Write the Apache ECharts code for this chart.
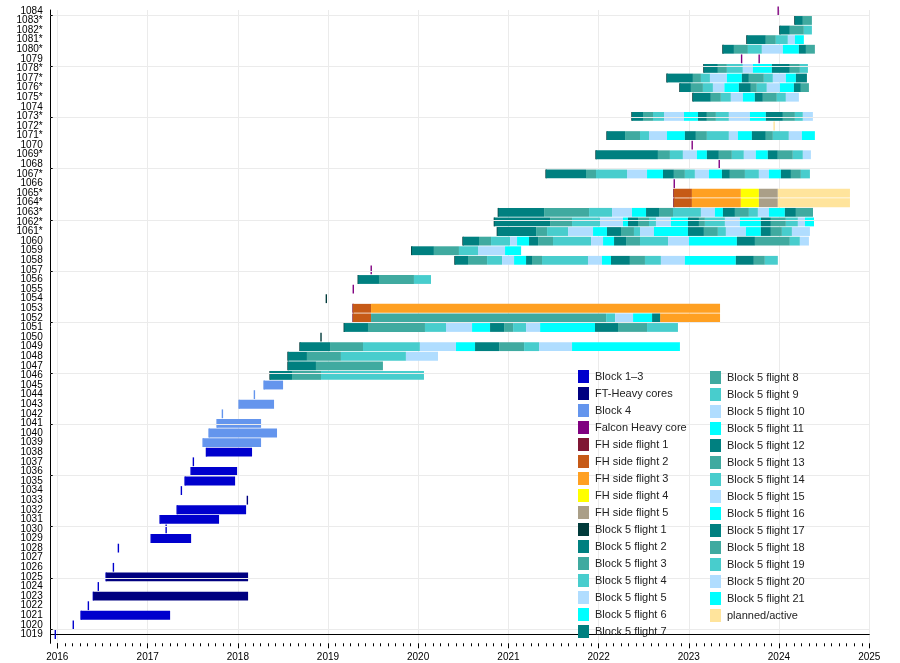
<!DOCTYPE html>
<html><head><meta charset="utf-8">
<script src="https://cdn.jsdelivr.net/npm/echarts@6/dist/echarts.min.js"></script>
<style>html,body{margin:0;padding:0;background:#fff}#c{width:900px;height:663px}</style>
</head><body><div id="c"></div>
<script>
// ---- data (dates as decimal years) ----
const boosterLabels = ['1019','1020','1021','1022','1023','1024','1025','1026','1027','1028',
 '1029','1030','1031','1032','1033','1034','1035','1036','1037','1038','1039','1040','1041','1042',
 '1043','1044','1045','1046','1047','1048','1049','1050','1051','1052','1053','1054','1055','1056',
 '1057','1058','1059','1060','1061*','1062*','1063*','1064*','1065*','1066','1067*','1068','1069*',
 '1070','1071*','1072*','1073*','1074','1075*','1076*','1077*','1078*','1079','1080*','1081*',
 '1082*','1083*','1084'];

// flight kind codes: a=Block 1–3, h=FT-Heavy core, b=Block 4, c=Falcon Heavy core,
// 1..5=FH side flight n, f=Block 5 (flight number = position), p=planned/active, B5 = all Block 5
const flightKinds = ['a','a','aa','a','ah','a','ah','a','','a',
 'aa','a','aa','aa','h','a','aa','aa','a','aa','bb','bb','bb','b',
 'bb','b','bb','B5','B5','B5','B5','B5','B5','12fffff3','123','B5','c','B5',
 'c','B5','B5','B5','B5','B5','B5','12345p','12345p','c','B5','c','B5',
 'c','B5','p','B5','','B5','B5','B5','B5','cc','B5','B5',
 'B5','B5','c'];

const flightDates = [
 [2015.978],
 [2016.177],
 [2016.263, 2017.249],
 [2016.344],
 [2016.399, 2018.114],
 [2016.454],
 [2016.540, 2018.114],
 [2016.621],
 [],
 [2016.676],
 [2017.039, 2017.482],
 [2017.205],
 [2017.138, 2017.792],
 [2017.327, 2018.092],
 [2018.106],
 [2017.374],
 [2017.415, 2017.970],
 [2017.482, 2017.992],
 [2017.507],
 [2017.652, 2018.158],
 [2017.615, 2018.258],
 [2017.681, 2018.435],
 [2017.770, 2018.258],
 [2017.829],
 [2018.014, 2018.402],
 [2018.184],
 [2018.291, 2018.502],
 [2018.358, 2018.601, 2018.923, 2020.065],
 [2018.557, 2018.867, 2019.610],
 [2018.557, 2018.767, 2019.144, 2019.865, 2020.220],
 [2018.690, 2019.023, 2019.389, 2020.020, 2020.419, 2020.630, 2020.896, 2021.173, 2021.339, 2021.705, 2022.902],
 [2018.923],
 [2019.181, 2019.444, 2020.076, 2020.309, 2020.597, 2020.796, 2020.951, 2021.051, 2021.195, 2021.351, 2021.960, 2022.215, 2022.537, 2022.880],
 [2019.278, 2019.478, 2022.083, 2022.183, 2022.382, 2022.593, 2022.682, 2023.347],
 [2019.278, 2019.478, 2023.347],
 [2018.982],
 [2019.281],
 [2019.336, 2019.566, 2019.954, 2020.143],
 [2019.480],
 [2020.408, 2020.552, 2020.763, 2020.929, 2021.062, 2021.195, 2021.261, 2021.372, 2021.882, 2022.037, 2022.137, 2022.347, 2022.514, 2022.691, 2022.957, 2023.522, 2023.722, 2023.844, 2023.988],
 [2019.929, 2020.175, 2020.452, 2020.663, 2020.962, 2021.140],
 [2020.497, 2020.674, 2020.807, 2021.018, 2021.095, 2021.228, 2021.328, 2021.494, 2021.916, 2022.049, 2022.171, 2022.304, 2022.459, 2022.770, 2023.002, 2023.534, 2023.734, 2024.121, 2024.232, 2024.332],
 [2020.877, 2021.306, 2021.428, 2021.661, 2021.938, 2022.093, 2022.248, 2022.392, 2022.459, 2022.614, 2022.991, 2023.168, 2023.323, 2023.412, 2023.634, 2023.800, 2023.911, 2024.033, 2024.144, 2024.343],
 [2020.844, 2021.461, 2021.705, 2022.015, 2022.270, 2022.326, 2022.437, 2022.559, 2022.636, 2022.802, 2022.991, 2023.113, 2023.179, 2023.401, 2023.567, 2023.800, 2023.911, 2024.077, 2024.210, 2024.288, 2024.388],
 [2020.888, 2021.395, 2021.894, 2022.149, 2022.370, 2022.526, 2022.670, 2022.825, 2023.135, 2023.290, 2023.379, 2023.512, 2023.667, 2023.767, 2023.889, 2024.066, 2024.188, 2024.377],
 [2022.835, 2023.035, 2023.578, 2023.778, 2023.988, 2024.786],
 [2022.835, 2023.035, 2023.578, 2023.778, 2023.988, 2024.786],
 [2022.839],
 [2021.417, 2021.860, 2021.971, 2022.315, 2022.537, 2022.714, 2022.835, 2022.957, 2023.068, 2023.224, 2023.368, 2023.456, 2023.623, 2023.778, 2023.889, 2024.022, 2024.133, 2024.243, 2024.343],
 [2023.338],
 [2021.971, 2022.658, 2022.791, 2022.935, 2023.090, 2023.201, 2023.334, 2023.478, 2023.611, 2023.744, 2023.877, 2023.988, 2024.154, 2024.265, 2024.354],
 [2023.038],
 [2022.093, 2022.293, 2022.459, 2022.559, 2022.758, 2022.957, 2023.079, 2023.201, 2023.445, 2023.545, 2023.700, 2023.855, 2023.933, 2024.110, 2024.254, 2024.398],
 [2023.947],
 [2022.370, 2022.492, 2022.603, 2022.725, 2022.947, 2023.102, 2023.201, 2023.301, 2023.445, 2023.678, 2023.855, 2024.044, 2024.177, 2024.265, 2024.376],
 [],
 [2023.046, 2023.245, 2023.356, 2023.467, 2023.600, 2023.733, 2023.822, 2023.977, 2024.077, 2024.221],
 [2022.902, 2023.024, 2023.157, 2023.268, 2023.395, 2023.556, 2023.689, 2023.755, 2023.866, 2024.011, 2024.166, 2024.243, 2024.332],
 [2022.758, 2023.046, 2023.135, 2023.235, 2023.423, 2023.589, 2023.667, 2023.833, 2023.933, 2024.077, 2024.188, 2024.310],
 [2023.168, 2023.323, 2023.423, 2023.600, 2023.711, 2023.922, 2024.121, 2024.232, 2024.321],
 [2023.586, 2023.781],
 [2023.379, 2023.501, 2023.656, 2023.811, 2024.044, 2024.221, 2024.299, 2024.398],
 [2023.645, 2023.855, 2023.966, 2024.099, 2024.177, 2024.276],
 [2024.011, 2024.121, 2024.276, 2024.365],
 [2024.177, 2024.265, 2024.365],
 [2023.992]
];

const legendNames = ['Block 1–3','FT-Heavy cores','Block 4','Falcon Heavy core',
 'FH side flight 1','FH side flight 2','FH side flight 3','FH side flight 4','FH side flight 5',
 'Block 5 flight 1','Block 5 flight 2','Block 5 flight 3','Block 5 flight 4','Block 5 flight 5',
 'Block 5 flight 6','Block 5 flight 7','Block 5 flight 8','Block 5 flight 9','Block 5 flight 10',
 'Block 5 flight 11','Block 5 flight 12','Block 5 flight 13','Block 5 flight 14','Block 5 flight 15',
 'Block 5 flight 16','Block 5 flight 17','Block 5 flight 18','Block 5 flight 19','Block 5 flight 20',
 'Block 5 flight 21','planned/active'];
const legendColors = ['#0000cd','#000080','#6495ed','#800080',
 '#7f1734','#c65a17','#ffa022','#ffff00','#aa9f88',
 '#013b3b','#008080','#40aaa0','#48cdcd','#b0ddff',
 '#00ffff','#008080','#40aaa0','#48cdcd','#b0ddff',
 '#00ffff','#008080','#40aaa0','#48cdcd','#b0ddff',
 '#00ffff','#008080','#40aaa0','#48cdcd','#b0ddff',
 '#00ffff','#ffe49c'];

// ---- build ----
function toTime(y){const Y=Math.floor(y);const a=Date.UTC(Y,0,1),b=Date.UTC(Y+1,0,1);return a+(y-Y)*(b-a);}
const kindName = {a:'Block 1–3',h:'FT-Heavy cores',b:'Block 4',c:'Falcon Heavy core',
 '1':'FH side flight 1','2':'FH side flight 2','3':'FH side flight 3','4':'FH side flight 4','5':'FH side flight 5',
 p:'planned/active'};
const buckets = {}; legendNames.forEach(n=>buckets[n]=[]);
flightDates.forEach((dates,row)=>{
  const code = flightKinds[row];
  dates.forEach((d,j)=>{
    const k = code==='B5' ? 'f' : code[j];
    const name = k==='f' ? 'Block 5 flight '+(j+1) : kindName[k];
    const t = toTime(d);
    if (j===0 || k==='c') buckets[name].push([t,t,row,1]);
    else buckets[name].push([toTime(dates[j-1]),t,row,0]);
  });
});

function renderItem(params, api){
  const p0 = api.coord([api.value(0), api.value(2)]);
  const p1 = api.coord([api.value(1), api.value(2)]);
  const h = api.size([0,1])[1]*0.92;
  let xs=p0[0], xe=p1[0];
  if (api.value(3)) { xs = p1[0]-0.7; xe = p1[0]+0.7; }
  return {type:'rect', shape:{x:xs, y:p0[1]-h/2, width:Math.max(xe-xs,0.5), height:h},
          style:{fill:api.visual('color')}};
}

const series = legendNames.map((n,i)=>({
  name:n, type:'custom', xAxisIndex:0, yAxisIndex:0, renderItem,
  itemStyle:{color:legendColors[i]}, encode:{x:[0,1], y:2},
  data:buckets[n], animation:false, z:2
}));

const FONT = '"Liberation Sans", Arial, sans-serif';
const L=50.7, R=30.7, AX=643.3;
const option = {
  backgroundColor:'#fff',
  animation:false,
  textStyle:{fontFamily:FONT},
  grid:[
    {left:L, right:R, top:10, bottom:663-AX},             // main
    {left:L, right:R, top:6.0, bottom:663-639.3},         // booster labels
    {left:L, right:R, top:15.3, bottom:663-629},          // horizontal grid lines
    {left:57.3, right:R, top:AX-2, bottom:663-AX}         // year ticks & labels (2016–2025)
  ],
  xAxis:[
    {type:'time', gridIndex:0, min:toTime(2015.927), max:toTime(2025.0), splitNumber:9,
     axisLine:{lineStyle:{color:'#000', width:1}},
     axisTick:{show:false}, axisLabel:{show:false},
     splitLine:{show:true, lineStyle:{color:'#ebebeb', width:1}}},
    {type:'value', gridIndex:1, show:false},
    {type:'value', gridIndex:2, show:false},
    {type:'time', gridIndex:3, min:Date.UTC(2016,0,1), max:Date.UTC(2025,0,1), splitNumber:9,
     axisLine:{show:false},
     axisTick:{show:true, length:5, lineStyle:{color:'#000'}},
     minorTick:{show:true, splitNumber:12, length:3, lineStyle:{color:'#000'}},
     axisLabel:{formatter:'{yyyy}', color:'#000', fontSize:10, fontFamily:FONT, margin:9,
        showMinLabel:true, showMaxLabel:true},
     splitLine:{show:false}}
  ],
  yAxis:[
    {type:'value', gridIndex:0, min:-0.92, max:65.09,
     axisLine:{show:true, lineStyle:{color:'#000', width:1}},
     axisTick:{show:false}, axisLabel:{show:false}, splitLine:{show:false}},
    {type:'category', gridIndex:1, data:boosterLabels,
     axisLine:{show:false}, axisTick:{show:false},
     axisLabel:{color:'#000', fontSize:10, fontFamily:FONT, margin:8, interval:0},
     splitLine:{show:false}},
    {type:'value', gridIndex:2, min:0, max:12, interval:1, z:3,
     axisLine:{show:false}, axisLabel:{show:false},
     axisTick:{show:true, inside:true, length:2, lineStyle:{color:'#000'}},
     splitLine:{show:true, lineStyle:{color:'#ebebeb', width:1}}},
    {type:'value', gridIndex:3, show:false}
  ],
  legend:[
    {data:legendNames.slice(0,16), orient:'vertical', left:573, top:365,
     itemWidth:11, itemHeight:13, itemGap:4, icon:'rect', selectedMode:false,
     textStyle:{fontSize:11, color:'#222', fontFamily:FONT, padding:[0,0,0,1]}},
    {data:legendNames.slice(16), orient:'vertical', left:705, top:366,
     itemWidth:11, itemHeight:13, itemGap:4, icon:'rect', selectedMode:false,
     textStyle:{fontSize:11, color:'#222', fontFamily:FONT, padding:[0,0,0,1]}}
  ],
  series
};
const chart = echarts.init(document.getElementById('c'), null, {renderer:'canvas'});
chart.setOption(option);
</script></body></html>
